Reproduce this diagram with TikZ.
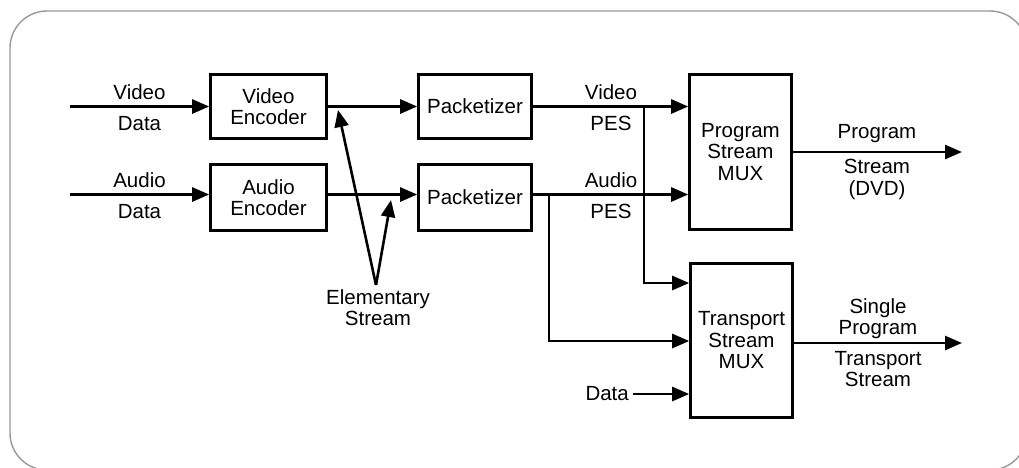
\documentclass[tikz,border=0pt]{standalone}
\usepackage{fontspec}
\setmainfont{Liberation Sans}
\usetikzlibrary{arrows.meta,calc}

\begin{document}
\begin{tikzpicture}[x=1pt,y=-1pt,
  every node/.style={font=\fontsize{20.5}{21.5}\selectfont, inner sep=0pt},
  blk/.style={draw, line width=2.6pt, align=center},
  lbl/.style={anchor=base},
  conn/.style={line width=2.6pt},
  arr/.style={conn, -{Triangle[length=17pt,width=14pt]}},
  frame/.style={draw=black!40, line width=1.4pt, rounded corners=37pt}
]
\useasboundingbox (0,0) rectangle (1019,467);

% outer panel
\draw[frame] (10,11) rectangle (1027,470);

% processing blocks
\node[blk, minimum width=116pt, minimum height=64pt] (venc) at (268.5,106.5) {Video\\Encoder};
\node[blk, minimum width=116pt, minimum height=66pt] (aenc) at (268.5,197.5) {Audio\\Encoder};
\node[blk, minimum width=113pt, minimum height=64pt] (vpkt) at (475,106.5) {Packetizer};
\node[blk, minimum width=113pt, minimum height=66pt] (apkt) at (475,197.5) {Packetizer};
\node[blk, minimum width=102pt, minimum height=155pt] (psmux) at (740.5,152) {Program\\Stream\\MUX};
\node[blk, minimum width=102pt, minimum height=154pt] (tsmux) at (741.5,340.5) {Transport\\Stream\\MUX};

% helper levels and free ends
\coordinate (ylev) at (0,194.5);
\coordinate (vin) at (70,106.5);
\coordinate (ain) at (70,194.5);
\coordinate (b1) at (644,106.5);
\coordinate (b2) at (549,194.5);
\coordinate (t1) at (0,283);
\coordinate (t2) at (0,341);
\coordinate (psout) at (962,152);
\coordinate (tsout) at (962,343);
\coordinate (es) at (376,285);
\coordinate (esv) at (338,110);
\coordinate (esa) at (391,200);

% inputs
\draw[arr] (vin) -- (vin -| venc.west);
\draw[arr] (ain) -- (ain -| aenc.west);
\node[lbl] (lvin1) at (139.5,99) {Video};
\node[lbl] (lvin2) at (139.5,130.5) {Data};
\node[lbl] (lain1) at (139.5,187) {Audio};
\node[lbl] (lain2) at (139.5,218) {Data};

% elementary streams
\draw[arr] (venc.east) -- (vpkt.west);
\draw[arr] (aenc.east |- ylev) -- (apkt.west |- ylev);

% PES
\draw[arr] (vpkt.east) -- (psmux.west |- vpkt.east);
\draw[arr] (apkt.east |- ylev) -- (psmux.west |- ylev);
\node[lbl] (lvp1) at (611,99) {Video};
\node[lbl] (lvp2) at (611,130.5) {PES};
\node[lbl] (lap1) at (611,187) {Audio};
\node[lbl] (lap2) at (611,218) {PES};

% branches to the transport multiplexer
\draw[arr] (b1) |- (tsmux.west |- t1);
\draw[arr] (b2) |- (tsmux.west |- t2);

% auxiliary data
\node[anchor=east] (ldat) at (629,394) {Data};
\draw[arr] ([xshift=4pt]ldat.east) -- (tsmux.west |- ldat.east);

% outputs
\draw[arr] (psmux.east) -- (psout);
\node[lbl] (lps1) at (877,138) {Program};
\node[lbl] (lps2) at (877,173) {Stream};
\node[lbl] (lps3) at (877,195) {(DVD)};

\draw[arr] (tsmux.east |- tsout) -- (tsout);
\node[lbl] (lts1) at (878,313) {Single};
\node[lbl] (lts2) at (878,334) {Program};
\node[lbl] (lts3) at (878,365) {Transport};
\node[lbl] (lts4) at (878,386) {Stream};

% elementary stream callout
\draw[arr] (es) -- (esv);
\draw[arr] (es) -- (esa);
\node[lbl] (les1) at (378,304) {Elementary};
\node[lbl] (les2) at (378,325) {Stream};
\end{tikzpicture}
\end{document}
